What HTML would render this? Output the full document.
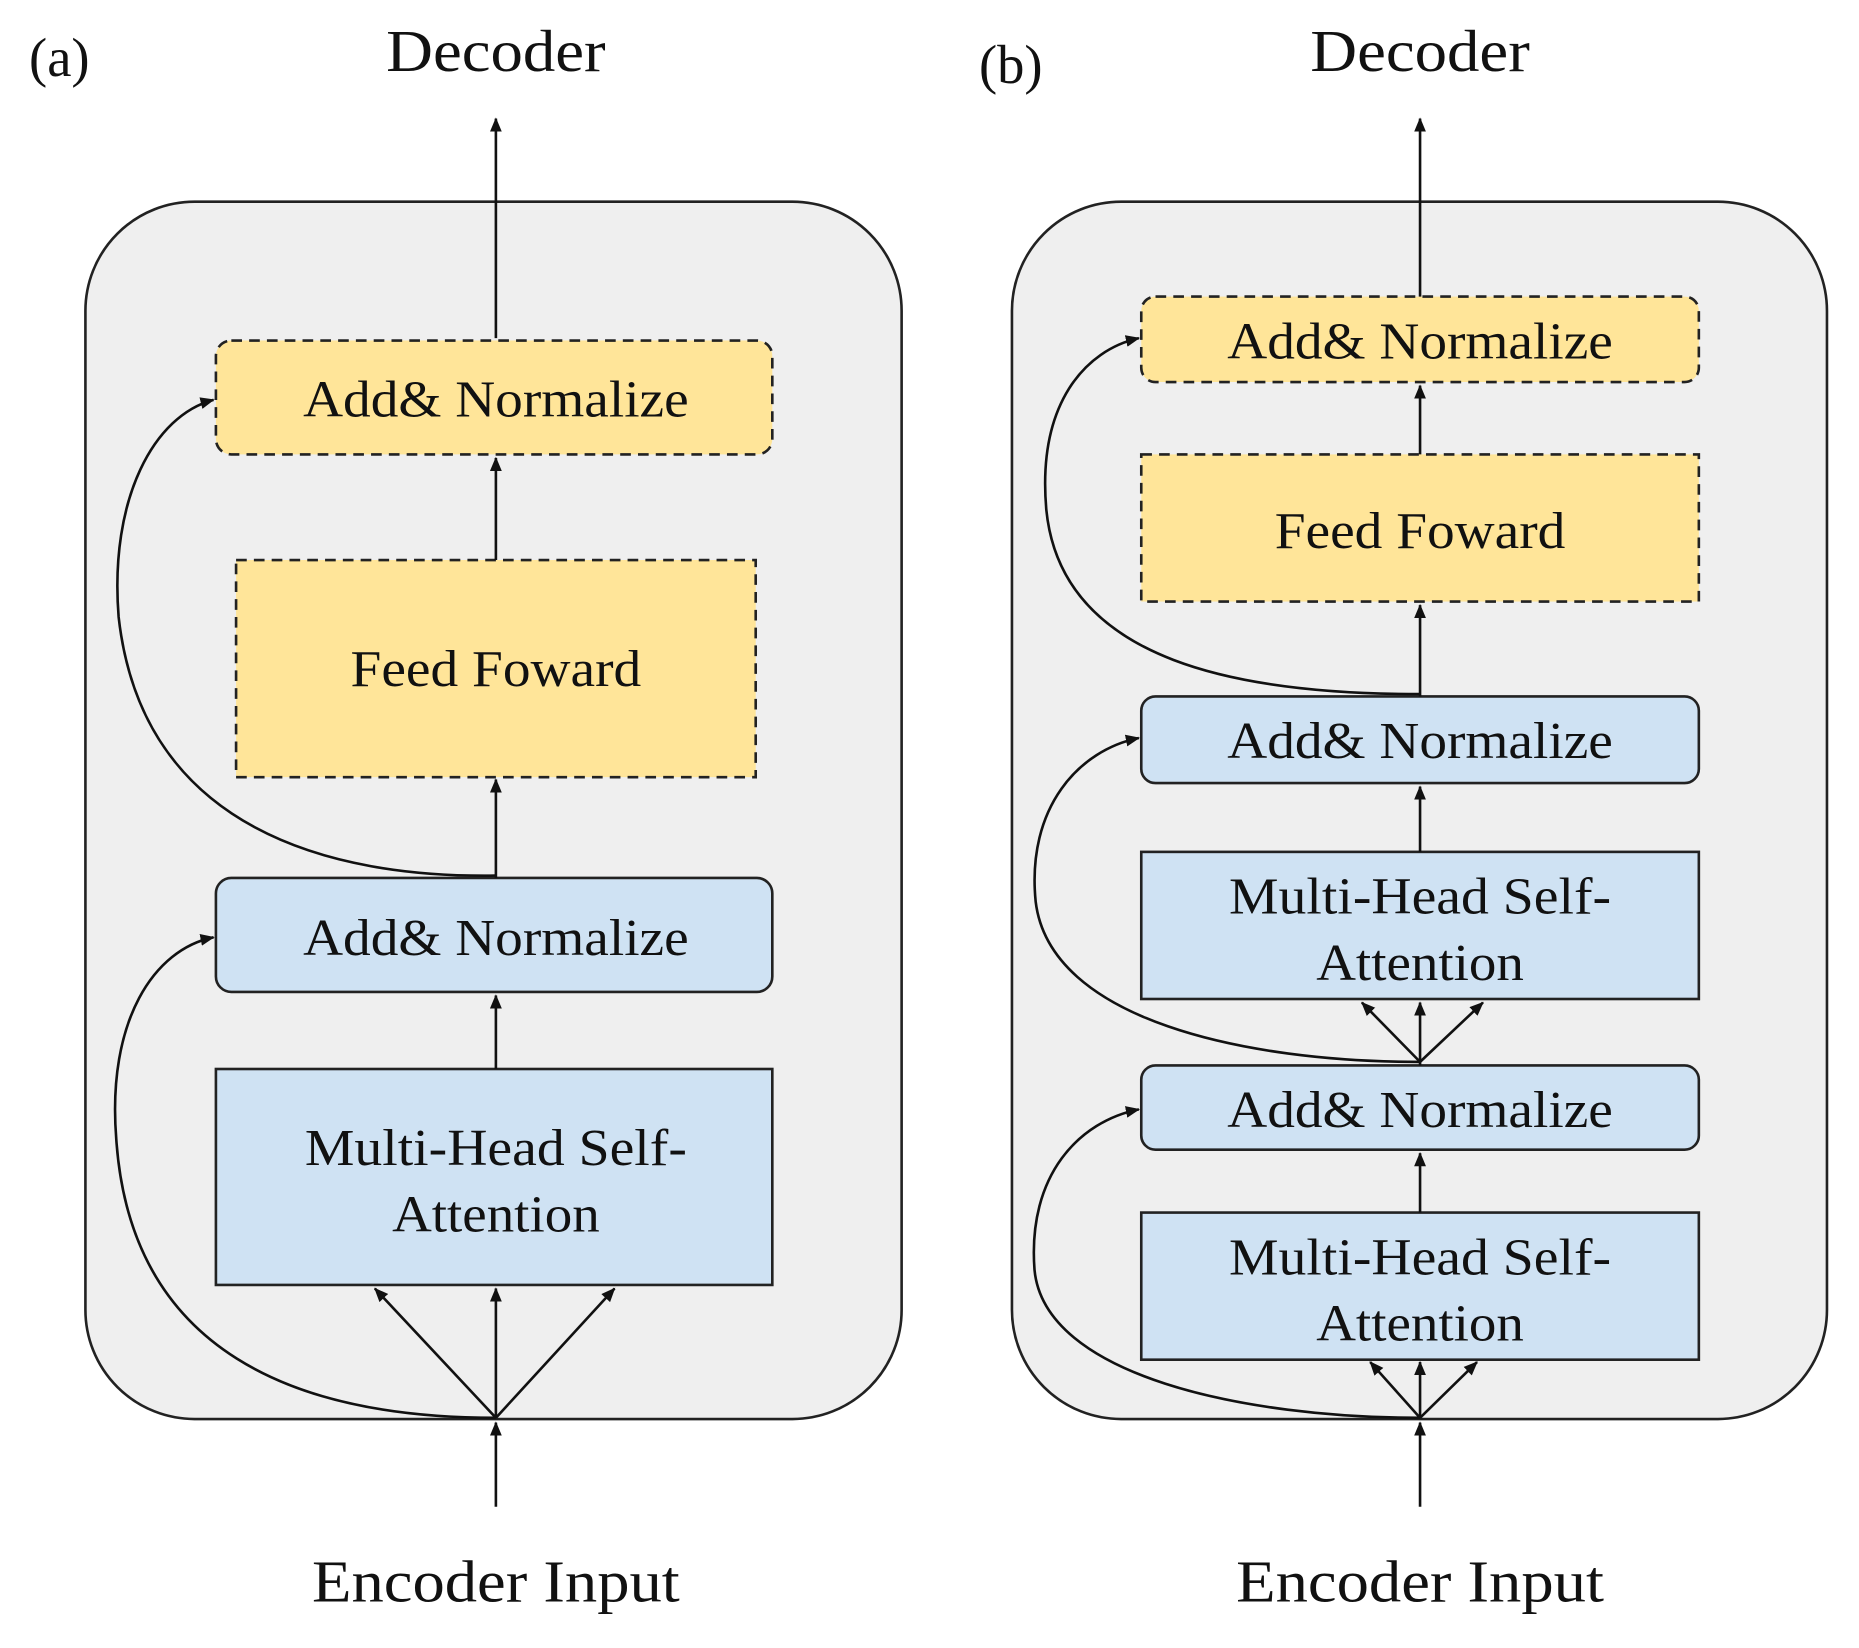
<!DOCTYPE html>
<html><head><meta charset="utf-8"><style>
html,body{margin:0;padding:0;background:#fff}
svg{display:block}
text{font-family:"Liberation Serif",serif;fill:#111}
</style></head><body>
<svg width="1859" height="1648" viewBox="0 0 1567 1389" preserveAspectRatio="none" xmlns="http://www.w3.org/2000/svg">
<defs>
<marker id="a" viewBox="0 0 12 10" refX="11" refY="5" markerWidth="12" markerHeight="10" orient="auto" markerUnits="userSpaceOnUse"><path d="M0,0 L12,5 L0,10 Z" fill="#111"/></marker>
</defs>
<g stroke="#222" stroke-width="2.2">
<rect x="72" y="170" width="688" height="1026" rx="92" fill="#efefef"/>
<rect x="853" y="170" width="687" height="1026" rx="92" fill="#efefef"/>
</g>
<g stroke="#222" stroke-width="2.2">
<rect x="182" y="287" width="469" height="96" rx="13" fill="#ffe599" stroke-dasharray="9,6"/>
<rect x="199" y="472" width="438" height="183" fill="#ffe599" stroke-dasharray="9,6"/>
<rect x="182" y="740" width="469" height="96" rx="13" fill="#cfe2f3"/>
<rect x="182" y="901" width="469" height="182" fill="#cfe2f3"/>
<rect x="962" y="250" width="470" height="72" rx="12" fill="#ffe599" stroke-dasharray="9,6"/>
<rect x="962" y="383" width="470" height="124" fill="#ffe599" stroke-dasharray="9,6"/>
<rect x="962" y="587" width="470" height="73" rx="12" fill="#cfe2f3"/>
<rect x="962" y="718" width="470" height="124" fill="#cfe2f3"/>
<rect x="962" y="898" width="470" height="71" rx="12" fill="#cfe2f3"/>
<rect x="962" y="1022" width="470" height="124" fill="#cfe2f3"/>
</g>
<g stroke="#111" stroke-width="2.2" fill="none" marker-end="url(#a)">
<line x1="418" y1="285" x2="418" y2="100"/>
<line x1="418" y1="472" x2="418" y2="386"/>
<line x1="418" y1="740" x2="418" y2="657"/>
<line x1="418" y1="901" x2="418" y2="839"/>
<line x1="418" y1="1195" x2="316" y2="1086"/>
<line x1="418" y1="1195" x2="418" y2="1086"/>
<line x1="418" y1="1195" x2="518" y2="1086"/>
<line x1="418" y1="1270" x2="418" y2="1199"/>
<path d="M418,1195 C250,1195 110,1140 98,960 C90,860 130,800 180,790"/>
<path d="M418,738 C280,740 120,700 100,520 C92,420 130,350 180,337"/>
<line x1="1197" y1="250" x2="1197" y2="100"/>
<line x1="1197" y1="383" x2="1197" y2="325"/>
<line x1="1197" y1="587" x2="1197" y2="510"/>
<line x1="1197" y1="718" x2="1197" y2="663"/>
<line x1="1197" y1="898" x2="1197" y2="845"/>
<line x1="1197" y1="1022" x2="1197" y2="972"/>
<line x1="1197" y1="895" x2="1148" y2="845"/>
<line x1="1197" y1="895" x2="1250" y2="845"/>
<line x1="1197" y1="1195" x2="1155" y2="1148"/>
<line x1="1197" y1="1195" x2="1197" y2="1148"/>
<line x1="1197" y1="1195" x2="1245" y2="1148"/>
<line x1="1197" y1="1270" x2="1197" y2="1199"/>
<path d="M1197,1195 C1050,1195 880,1160 872,1070 C866,990 910,945 960,935"/>
<path d="M1197,895 C1050,895 885,860 873,760 C865,680 910,632 960,622"/>
<path d="M1197,585 C1050,585 895,560 882,430 C874,340 915,295 960,285"/>
</g>
<g text-anchor="middle">
<text x="50" y="64" font-size="46">(a)</text>
<text x="852" y="70" font-size="46">(b)</text>
<text x="418" y="60" font-size="50" textLength="185" lengthAdjust="spacingAndGlyphs">Decoder</text>
<text x="1197" y="60" font-size="50" textLength="185" lengthAdjust="spacingAndGlyphs">Decoder</text>
<text x="418" y="1350" font-size="50" textLength="310" lengthAdjust="spacingAndGlyphs">Encoder Input</text>
<text x="1197" y="1350" font-size="50" textLength="310" lengthAdjust="spacingAndGlyphs">Encoder Input</text>
<g font-size="44">
<text x="418" y="351" textLength="325" lengthAdjust="spacingAndGlyphs">Add&amp; Normalize</text>
<text x="418" y="578" textLength="245" lengthAdjust="spacingAndGlyphs">Feed Foward</text>
<text x="418" y="805" textLength="325" lengthAdjust="spacingAndGlyphs">Add&amp; Normalize</text>
<text x="418" y="982" textLength="322" lengthAdjust="spacingAndGlyphs">Multi-Head Self-</text>
<text x="418" y="1038" textLength="175" lengthAdjust="spacingAndGlyphs">Attention</text>
<text x="1197" y="302" textLength="325" lengthAdjust="spacingAndGlyphs">Add&amp; Normalize</text>
<text x="1197" y="462" textLength="245" lengthAdjust="spacingAndGlyphs">Feed Foward</text>
<text x="1197" y="639" textLength="325" lengthAdjust="spacingAndGlyphs">Add&amp; Normalize</text>
<text x="1197" y="770" textLength="322" lengthAdjust="spacingAndGlyphs">Multi-Head Self-</text>
<text x="1197" y="826" textLength="175" lengthAdjust="spacingAndGlyphs">Attention</text>
<text x="1197" y="950" textLength="325" lengthAdjust="spacingAndGlyphs">Add&amp; Normalize</text>
<text x="1197" y="1074" textLength="322" lengthAdjust="spacingAndGlyphs">Multi-Head Self-</text>
<text x="1197" y="1130" textLength="175" lengthAdjust="spacingAndGlyphs">Attention</text>
</g>
</g>
</svg>
</body></html>
